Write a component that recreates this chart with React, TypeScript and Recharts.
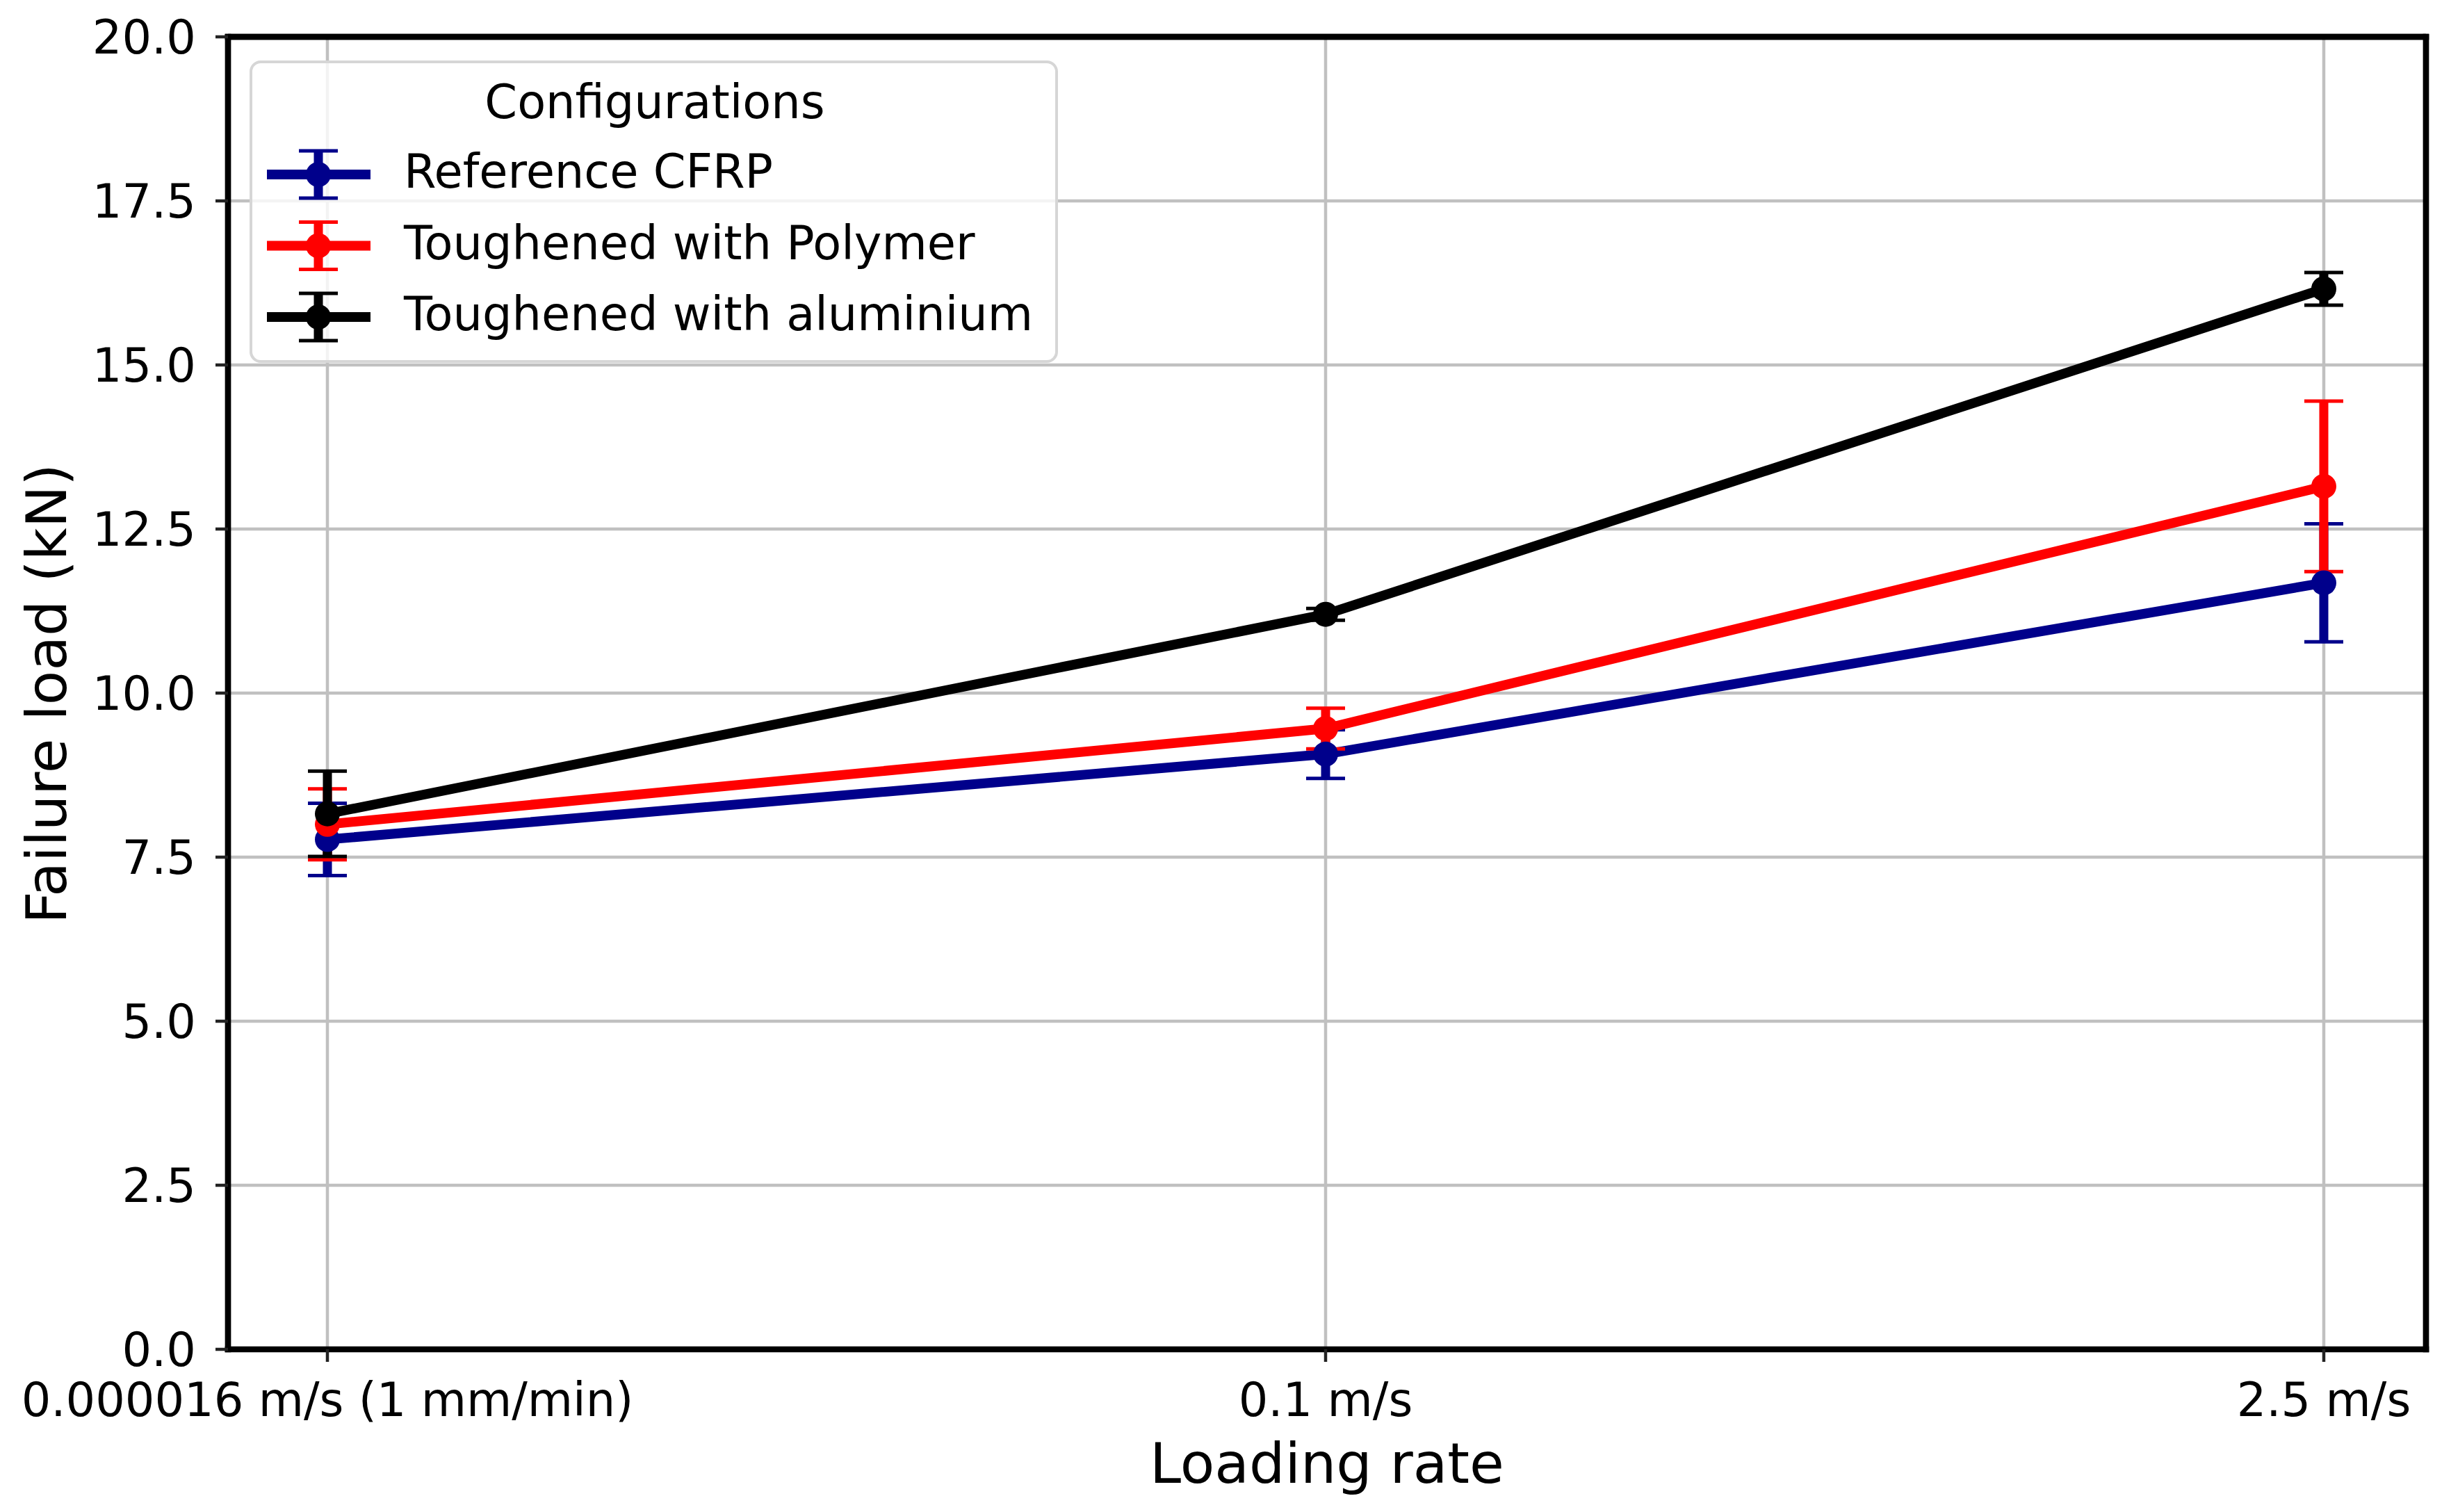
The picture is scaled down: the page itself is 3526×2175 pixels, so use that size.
import { CartesianGrid, ErrorBar, Label, Legend, Line, LineChart, ReferenceLine, XAxis, YAxis } from 'recharts';

const categories = ['0.000016 m/s (1 mm/min)', '0.1 m/s', '2.5 m/s'];

const referenceCfrp = [7.77, 9.07, 11.68];
const referenceCfrpErr = [0.55, 0.37, 0.9];
const polymer = [8.0, 9.46, 13.15];
const polymerErr = [0.54, 0.31, 1.3];
const aluminium = [8.16, 11.2, 16.16];
const aluminiumErr = [0.65, 0.09, 0.25];

const yTicks = [0, 2.5, 5, 7.5, 10, 12.5, 15, 17.5, 20];

const series = [
  { key: 'cfrp', err: 'cfrpErr', name: 'Reference CFRP', color: '#00008b' },
  { key: 'polymer', err: 'polymerErr', name: 'Toughened with Polymer', color: '#ff0000' },
  { key: 'alu', err: 'aluErr', name: 'Toughened with aluminium', color: '#000000' },
];

const data = categories.map((rate, i) => ({
  rate,
  cfrp: referenceCfrp[i],
  cfrpErr: referenceCfrpErr[i],
  polymer: polymer[i],
  polymerErr: polymerErr[i],
  alu: aluminium[i],
  aluErr: aluminiumErr[i],
}));

const FONT = '"DejaVu Sans", sans-serif';
const spine = { stroke: '#000', strokeWidth: 8.7, strokeLinecap: 'square' as const };
const tickLine = { stroke: '#222', strokeWidth: 4.5 };

const LegendBox = () => (
  <svg width={1163} height={435} style={{ display: 'block' }}>
    <rect x={2} y={2} width={1159} height={431} rx={14} fill="rgba(255,255,255,0.8)" stroke="#d6d6d6" strokeWidth={4} />
    <text x={583} y={83} textAnchor="middle" fontSize={67} fontFamily={FONT} fill="#000">
      Configurations
    </text>
    {series.map((s, i) => {
      const cy = 164 + i * 102.5;
      return (
        <g key={s.key}>
          <line x1={25} x2={174} y1={cy} y2={cy} stroke={s.color} strokeWidth={14} />
          <line x1={99} x2={99} y1={cy - 34} y2={cy + 34} stroke={s.color} strokeWidth={13} />
          <line x1={71} x2={127} y1={cy - 34} y2={cy - 34} stroke={s.color} strokeWidth={5} />
          <line x1={71} x2={127} y1={cy + 34} y2={cy + 34} stroke={s.color} strokeWidth={5} />
          <circle cx={99} cy={cy} r={18} fill={s.color} />
          <text x={222} y={183 + i * 102.5} fontSize={67} fontFamily={FONT} fill="#000">
            {s.name}
          </text>
        </g>
      );
    })}
  </svg>
);

export default function App() {
  return (
    <>
      <style>{'body{margin:0;background:#fff}'}</style>
      <LineChart width={3526} height={2175} data={data} margin={{ top: 52, right: 35, bottom: 0, left: 0 }}>
        <CartesianGrid stroke="#c0c0c0" strokeWidth={4.5} />
        <XAxis
          dataKey="rate"
          height={234}
          padding={{ left: 143, right: 147 }}
          axisLine={spine}
          tickLine={tickLine}
          tickSize={18}
          tickMargin={30}
          tick={{ fontSize: 67, fill: '#000', fontFamily: FONT }}
        >
          <Label
            content={() => (
              <text x={1909} y={2133} textAnchor="middle" fontSize={81} fontFamily={FONT} fill="#000">
                Loading rate
              </text>
            )}
          />
        </XAxis>
        <XAxis
          xAxisId="top"
          dataKey="rate"
          orientation="top"
          height={1}
          padding={{ left: 143, right: 147 }}
          axisLine={spine}
          tick={false}
          tickLine={false}
        />
        <YAxis
          width={328}
          domain={[0, 20]}
          ticks={yTicks}
          tickFormatter={(v: number) => v.toFixed(1)}
          axisLine={spine}
          tickLine={tickLine}
          tickSize={18}
          tickMargin={28}
          tick={{ fontSize: 67, fill: '#000', fontFamily: FONT }}
        >
          <Label
            content={() => (
              <text
                x={95}
                y={998}
                transform="rotate(-90, 95, 998)"
                textAnchor="middle"
                fontSize={81}
                fontFamily={FONT}
                fill="#000"
              >
                Failure load (kN)
              </text>
            )}
          />
        </YAxis>
        <YAxis
          yAxisId="right"
          orientation="right"
          type="number"
          domain={[0, 20]}
          width={1}
          axisLine={spine}
          tick={false}
          tickLine={false}
        />
        <ReferenceLine y={20} stroke="#000" strokeWidth={8.7} />
        {series.map((s) => (
          <Line
            key={s.key}
            dataKey={s.key}
            name={s.name}
            stroke={s.color}
            strokeWidth={14}
            dot={{ r: 18, fill: s.color, stroke: 'none' }}
            activeDot={false}
            isAnimationActive={false}
          >
            <ErrorBar dataKey={s.err} width={0} strokeWidth={13} stroke={s.color} direction="y" isAnimationActive={false} />
            <ErrorBar dataKey={s.err} width={28} strokeWidth={5} stroke={s.color} direction="y" isAnimationActive={false} />
          </Line>
        ))}
        <Legend
          content={() => <LegendBox />}
          layout="horizontal"
          verticalAlign="middle"
          align="center"
          wrapperStyle={{ left: 359, top: 87, width: 1163, height: 435 }}
        />
      </LineChart>
    </>
  );
}
